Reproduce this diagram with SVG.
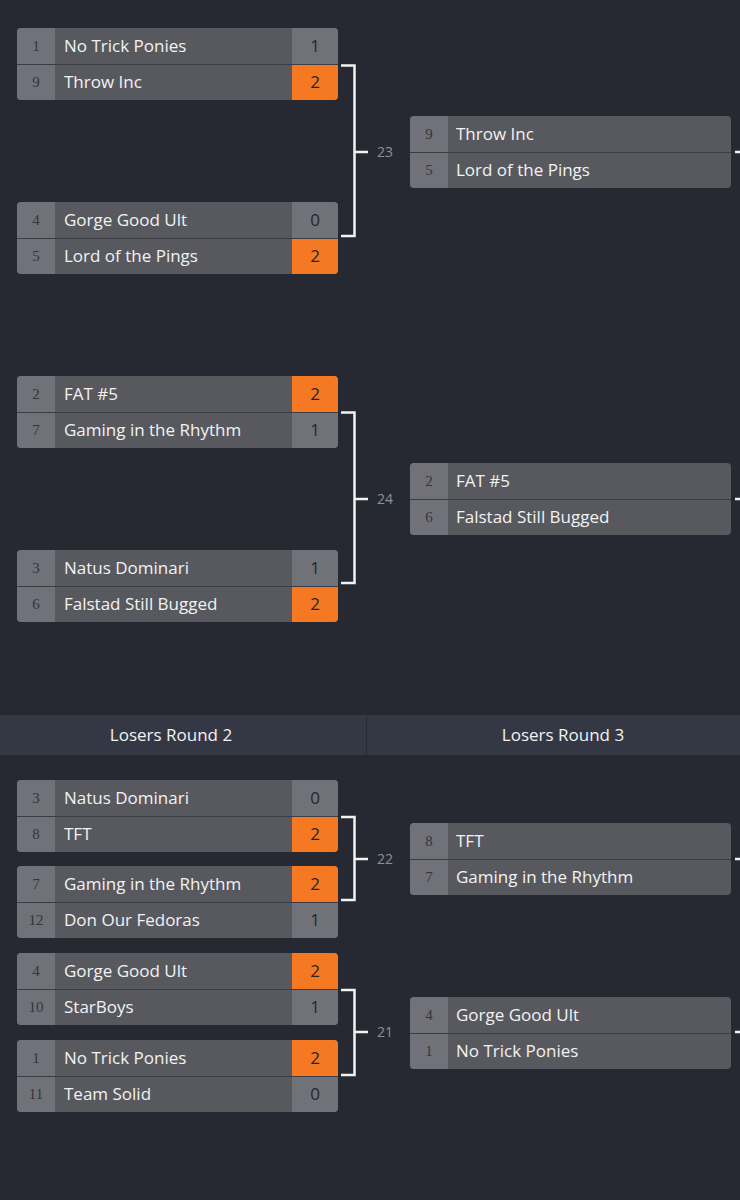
<svg xmlns="http://www.w3.org/2000/svg" width="740" height="1200" viewBox="0 0 740 1200">
<defs>
<style>
.bg{fill:#262932}
.seedbg{fill:#717279}
.namebg{fill:#58595f}
.scorebg{fill:#717279}
.win{fill:#f57822}
.sep{stroke:#3c3d44;stroke-width:1}
.seed{font-family:"Liberation Serif",serif;font-size:15px;fill:#34353b;text-anchor:middle}
.name{font-family:"Open Sans","Noto Sans",sans-serif;font-size:17px;fill:#f2f2f2}
.score{font-family:"Open Sans","Noto Sans",sans-serif;font-size:17px;fill:#262626;text-anchor:middle}
.hdr{font-family:"Open Sans","Noto Sans",sans-serif;font-size:17px;fill:#f2f2f2;text-anchor:middle}
.lbl{font-family:"Open Sans","Noto Sans",sans-serif;font-size:14px;fill:#8e9098;text-anchor:middle}
.con{fill:none;stroke:#f2f2f2;stroke-width:2.5}
</style>
<clipPath id="clipL" clipPathUnits="userSpaceOnUse"><rect x="0" y="0" width="321" height="72" rx="4"/></clipPath>
<clipPath id="clipR" clipPathUnits="userSpaceOnUse"><rect x="0" y="0" width="321" height="72" rx="4"/></clipPath>
</defs>
<rect class="bg" x="0" y="0" width="740" height="1200"/>

<!-- header band -->
<g id="header">
<rect x="0" y="715" width="740" height="40" fill="#343845"/>
<line x1="366.5" y1="715" x2="366.5" y2="755" stroke="#262a33" stroke-width="1"/>
<text class="hdr" x="171" y="741">Losers Round 2</text>
<text class="hdr" x="563" y="741">Losers Round 3</text>
</g>

<!-- Left column matches -->
<g id="m1" transform="translate(17,28)" clip-path="url(#clipL)">
<rect class="namebg" width="321" height="72"/>
<rect class="seedbg" width="38" height="72"/>
<rect class="scorebg" x="275" width="46" height="36"/>
<rect class="win" x="275" y="37" width="46" height="35"/>
<line class="sep" x1="0" y1="36.5" x2="321" y2="36.5"/>
<text class="seed" x="19" y="23">1</text><text class="name" x="47" y="24">No Trick Ponies</text><text class="score" x="298" y="24">1</text>
<text class="seed" x="19" y="59">9</text><text class="name" x="47" y="60">Throw Inc</text><text class="score" x="298" y="60">2</text>
</g>
<g id="m2" transform="translate(17,202)" clip-path="url(#clipL)">
<rect class="namebg" width="321" height="72"/>
<rect class="seedbg" width="38" height="72"/>
<rect class="scorebg" x="275" width="46" height="36"/>
<rect class="win" x="275" y="37" width="46" height="35"/>
<line class="sep" x1="0" y1="36.5" x2="321" y2="36.5"/>
<text class="seed" x="19" y="23">4</text><text class="name" x="47" y="24">Gorge Good Ult</text><text class="score" x="298" y="24">0</text>
<text class="seed" x="19" y="59">5</text><text class="name" x="47" y="60">Lord of the Pings</text><text class="score" x="298" y="60">2</text>
</g>
<g id="m3" transform="translate(17,376)" clip-path="url(#clipL)">
<rect class="namebg" width="321" height="72"/>
<rect class="seedbg" width="38" height="72"/>
<rect class="win" x="275" width="46" height="36"/>
<rect class="scorebg" x="275" y="37" width="46" height="35"/>
<line class="sep" x1="0" y1="36.5" x2="321" y2="36.5"/>
<text class="seed" x="19" y="23">2</text><text class="name" x="47" y="24">FAT #5</text><text class="score" x="298" y="24">2</text>
<text class="seed" x="19" y="59">7</text><text class="name" x="47" y="60">Gaming in the Rhythm</text><text class="score" x="298" y="60">1</text>
</g>
<g id="m4" transform="translate(17,550)" clip-path="url(#clipL)">
<rect class="namebg" width="321" height="72"/>
<rect class="seedbg" width="38" height="72"/>
<rect class="scorebg" x="275" width="46" height="36"/>
<rect class="win" x="275" y="37" width="46" height="35"/>
<line class="sep" x1="0" y1="36.5" x2="321" y2="36.5"/>
<text class="seed" x="19" y="23">3</text><text class="name" x="47" y="24">Natus Dominari</text><text class="score" x="298" y="24">1</text>
<text class="seed" x="19" y="59">6</text><text class="name" x="47" y="60">Falstad Still Bugged</text><text class="score" x="298" y="60">2</text>
</g>

<g id="m5" transform="translate(17,780)" clip-path="url(#clipL)">
<rect class="namebg" width="321" height="72"/>
<rect class="seedbg" width="38" height="72"/>
<rect class="scorebg" x="275" width="46" height="36"/>
<rect class="win" x="275" y="37" width="46" height="35"/>
<line class="sep" x1="0" y1="36.5" x2="321" y2="36.5"/>
<text class="seed" x="19" y="23">3</text><text class="name" x="47" y="24">Natus Dominari</text><text class="score" x="298" y="24">0</text>
<text class="seed" x="19" y="59">8</text><text class="name" x="47" y="60">TFT</text><text class="score" x="298" y="60">2</text>
</g>
<g id="m6" transform="translate(17,866)" clip-path="url(#clipL)">
<rect class="namebg" width="321" height="72"/>
<rect class="seedbg" width="38" height="72"/>
<rect class="win" x="275" width="46" height="36"/>
<rect class="scorebg" x="275" y="37" width="46" height="35"/>
<line class="sep" x1="0" y1="36.5" x2="321" y2="36.5"/>
<text class="seed" x="19" y="23">7</text><text class="name" x="47" y="24">Gaming in the Rhythm</text><text class="score" x="298" y="24">2</text>
<text class="seed" x="19" y="59">12</text><text class="name" x="47" y="60">Don Our Fedoras</text><text class="score" x="298" y="60">1</text>
</g>
<g id="m7" transform="translate(17,953)" clip-path="url(#clipL)">
<rect class="namebg" width="321" height="72"/>
<rect class="seedbg" width="38" height="72"/>
<rect class="win" x="275" width="46" height="36"/>
<rect class="scorebg" x="275" y="37" width="46" height="35"/>
<line class="sep" x1="0" y1="36.5" x2="321" y2="36.5"/>
<text class="seed" x="19" y="23">4</text><text class="name" x="47" y="24">Gorge Good Ult</text><text class="score" x="298" y="24">2</text>
<text class="seed" x="19" y="59">10</text><text class="name" x="47" y="60">StarBoys</text><text class="score" x="298" y="60">1</text>
</g>
<g id="m8" transform="translate(17,1040)" clip-path="url(#clipL)">
<rect class="namebg" width="321" height="72"/>
<rect class="seedbg" width="38" height="72"/>
<rect class="win" x="275" width="46" height="36"/>
<rect class="scorebg" x="275" y="37" width="46" height="35"/>
<line class="sep" x1="0" y1="36.5" x2="321" y2="36.5"/>
<text class="seed" x="19" y="23">1</text><text class="name" x="47" y="24">No Trick Ponies</text><text class="score" x="298" y="24">2</text>
<text class="seed" x="19" y="59">11</text><text class="name" x="47" y="60">Team Solid</text><text class="score" x="298" y="60">0</text>
</g>

<!-- Right column matches -->
<g id="r1" transform="translate(410,116)" clip-path="url(#clipR)">
<rect class="namebg" width="321" height="72"/>
<rect class="seedbg" width="38" height="72"/>
<line class="sep" x1="0" y1="36.5" x2="321" y2="36.5"/>
<text class="seed" x="19" y="23">9</text><text class="name" x="46" y="24">Throw Inc</text>
<text class="seed" x="19" y="59">5</text><text class="name" x="46" y="60">Lord of the Pings</text>
</g>
<g id="r2" transform="translate(410,463)" clip-path="url(#clipR)">
<rect class="namebg" width="321" height="72"/>
<rect class="seedbg" width="38" height="72"/>
<line class="sep" x1="0" y1="36.5" x2="321" y2="36.5"/>
<text class="seed" x="19" y="23">2</text><text class="name" x="46" y="24">FAT #5</text>
<text class="seed" x="19" y="59">6</text><text class="name" x="46" y="60">Falstad Still Bugged</text>
</g>
<g id="r3" transform="translate(410,823)" clip-path="url(#clipR)">
<rect class="namebg" width="321" height="72"/>
<rect class="seedbg" width="38" height="72"/>
<line class="sep" x1="0" y1="36.5" x2="321" y2="36.5"/>
<text class="seed" x="19" y="23">8</text><text class="name" x="46" y="24">TFT</text>
<text class="seed" x="19" y="59">7</text><text class="name" x="46" y="60">Gaming in the Rhythm</text>
</g>
<g id="r4" transform="translate(410,997)" clip-path="url(#clipR)">
<rect class="namebg" width="321" height="72"/>
<rect class="seedbg" width="38" height="72"/>
<line class="sep" x1="0" y1="36.5" x2="321" y2="36.5"/>
<text class="seed" x="19" y="23">4</text><text class="name" x="46" y="24">Gorge Good Ult</text>
<text class="seed" x="19" y="59">1</text><text class="name" x="46" y="60">No Trick Ponies</text>
</g>

<!-- connectors -->
<g id="connectors">
<path class="con" d="M341 65.5 H354.5 V236 H341 M354.5 152 H368"/>
<path class="con" d="M341 412.5 H354.5 V583 H341 M354.5 499 H368"/>
<path class="con" d="M341 817 H354.5 V900 H341 M354.5 859 H368"/>
<path class="con" d="M341 990 H354.5 V1075 H341 M354.5 1032 H368"/>
<path class="con" d="M735 152 H740 M735 499 H740 M735 859 H740 M735 1032 H740"/>
<text class="lbl" x="385" y="157">23</text>
<text class="lbl" x="385" y="504">24</text>
<text class="lbl" x="385" y="864">22</text>
<text class="lbl" x="385" y="1037">21</text>
</g>
</svg>
